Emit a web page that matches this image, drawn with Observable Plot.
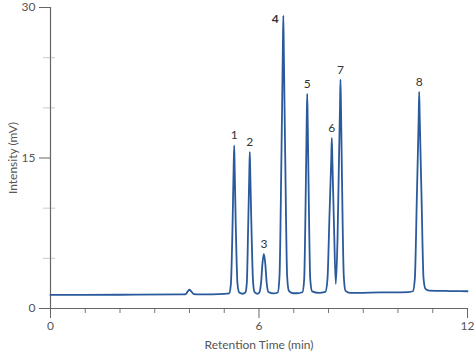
<!DOCTYPE html>
<html>
<head>
<meta charset="utf-8">
<script src="https://cdn.jsdelivr.net/npm/d3@7"></script>
<script src="https://cdn.jsdelivr.net/npm/@observablehq/plot@0.6"></script>
<style>
  html, body { margin: 0; padding: 0; background: #fff; }
  #chart { width: 474px; height: 358px; }
</style>
</head>
<body>
<div id="chart"></div>
<script>
// Chromatogram trace: retention time (min) and intensity (mV)
const times = [0, 2.0, 3.8, 3.88, 3.95, 4.0, 4.05, 4.12, 4.3, 5.0,
  5.14, 5.19, 5.24, 5.27, 5.286, 5.30, 5.33, 5.38, 5.43, 5.53,
  5.61, 5.65, 5.69, 5.72, 5.735, 5.75, 5.78, 5.83, 5.87, 5.95,
  6.01, 6.06, 6.10, 6.14, 6.18, 6.22, 6.27, 6.42,
  6.54, 6.59, 6.645, 6.685, 6.70, 6.715, 6.755, 6.81, 6.86, 6.98, 7.10,
  7.25, 7.30, 7.345, 7.372, 7.387, 7.402, 7.43, 7.475, 7.53, 7.72,
  7.91, 7.97, 8.03, 8.08, 8.095, 8.11, 8.16, 8.21,
  8.26, 8.30, 8.33, 8.345, 8.36, 8.39, 8.44, 8.49, 8.62, 9.5, 10.3,
  10.43, 10.485, 10.545, 10.595, 10.61, 10.625, 10.675, 10.735, 10.79, 10.9, 11.5, 12.0];
const intensities = [1.35, 1.37, 1.40, 1.42, 1.7, 1.87, 1.7, 1.44, 1.40, 1.45,
  1.5, 2.4, 8.5, 14, 16.25, 14, 8.5, 2.5, 1.6, 1.47,
  1.6, 2.6, 8.5, 13.3, 15.6, 13.3, 8.5, 2.6, 1.65, 1.47,
  1.6, 2.6, 4.5, 5.45, 4.5, 2.6, 1.65, 1.5,
  1.6, 3.2, 15, 25.5, 29.2, 25.5, 15, 3.2, 1.75, 1.52, 1.52,
  1.62, 2.9, 11.5, 18.5, 21.4, 18.5, 11.5, 2.9, 1.7, 1.55,
  1.65, 2.9, 9.5, 15, 17.0, 15, 8, 2.46,
  7, 14.5, 20, 22.8, 20, 12.5, 3.2, 1.75, 1.55, 1.6, 1.64,
  1.72, 3.0, 11.5, 19, 21.6, 19, 11.5, 3.0, 1.95, 1.78, 1.74, 1.72];

// Peak annotations
const peakTimes = [5.286, 5.735, 6.14, 6.70, 7.387, 8.095, 8.345, 10.61];
const peakHeights = [16.25, 15.6, 5.45, 29.2, 21.4, 17.0, 22.8, 21.6];
const peakLabels = ["1", "2", "3", "4", "5", "6", "7", "8"];

// Axis ticks
const xMajorTicks = [0, 6, 12];
const xMinorTicks = [1, 2, 3, 4, 5, 7, 8, 9, 10, 11];
const yMajorTicks = [0, 15, 30];
const yMinorTicks = [5, 10, 20, 25];

const trace = times.map((t, i) => ({t, v: intensities[i]}));
const peaks = peakTimes.map((t, i) => ({t, v: peakHeights[i], label: peakLabels[i]}));

const chart = Plot.plot({
  width: 474,
  height: 358,
  marginLeft: 50,
  marginRight: 7,
  marginTop: 7,
  marginBottom: 50,
  style: {fontFamily: "Lato, 'Open Sans', sans-serif", fontSize: "12px", color: "#555", background: "#fff"},
  x: {domain: [0, 12]},
  y: {domain: [0, 30]},
  marks: [
    Plot.axisY({ticks: yMinorTicks, tickSize: 12, dx: 5, text: null, stroke: "#ccc", label: null}),
    Plot.axisY({ticks: yMajorTicks, tickSize: 11, tickPadding: 4, stroke: "#666", fill: "#555",
      label: "Intensity (mV)", labelAnchor: "center", labelOffset: 42, labelArrow: "none"}),
    Plot.axisX({ticks: xMinorTicks, tickSize: 5, text: null, stroke: "#777", label: null}),
    Plot.axisX({ticks: xMajorTicks, tickSize: 10, tickPadding: 3, stroke: "#666", fill: "#555",
      label: "Retention Time (min)", labelAnchor: "center", labelOffset: 40, labelArrow: "none"}),
    Plot.ruleX([0], {stroke: "#666", strokeWidth: 1.2}),
    Plot.ruleY([0], {stroke: "#666", strokeWidth: 1.2}),
    Plot.line(trace, {x: "t", y: "v", stroke: "#2a5a9c", strokeWidth: 1.8, curve: "monotone-x"}),
    Plot.text(peaks.filter(d => d.label !== "4"), {x: "t", y: "v", text: "label", dy: -10, fill: "#333", fontSize: 12}),
    Plot.text(peaks.filter(d => d.label === "4"), {x: "t", y: "v", text: "label", dx: -8, dy: 4, fill: "#333", fontSize: 12, fontWeight: "bold"})
  ]
});
document.getElementById("chart").appendChild(chart);
</script>
</body>
</html>
